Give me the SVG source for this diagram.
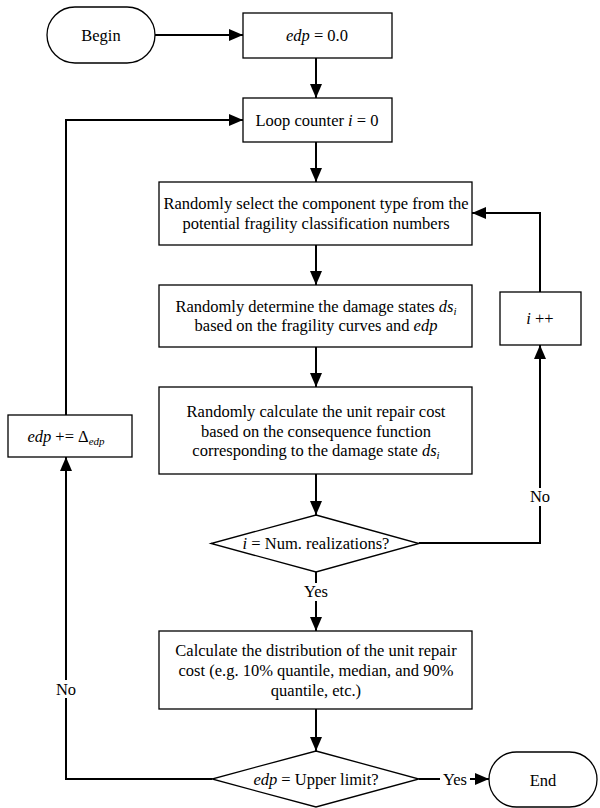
<svg xmlns="http://www.w3.org/2000/svg" width="600" height="808" viewBox="0 0 600 808" font-family="'Liberation Serif', 'Times New Roman', serif">
<style>
.n{fill:#fff;stroke:#000;stroke-width:1.3}
.c{fill:none;stroke:#000;stroke-width:2}
text{font-family:'Liberation Serif','Times New Roman',serif;font-size:16.5px;fill:#000;text-anchor:middle}
.i{font-style:italic}
.s{font-style:italic;font-size:11px}
.lb{fill:#fff;stroke:none}
</style>
<defs>
<marker id="a" markerUnits="userSpaceOnUse" markerWidth="14" markerHeight="12" refX="14" refY="6" orient="auto">
<path d="M0,0 L14,6 L0,12 z" fill="#000"/>
</marker>
</defs>
<rect width="600" height="808" fill="#fff"/>
<g id="connectors">
<path class="c" d="M155,35 L243,35" marker-end="url(#a)"/>
<path class="c" d="M316,58 L316,98" marker-end="url(#a)"/>
<path class="c" d="M316,142 L316,182" marker-end="url(#a)"/>
<path class="c" d="M316,245 L316,285" marker-end="url(#a)"/>
<path class="c" d="M316,347 L316,387" marker-end="url(#a)"/>
<path class="c" d="M316,474 L316,515" marker-end="url(#a)"/>
<path class="c" d="M316,572 L316,631" marker-end="url(#a)"/>
<path class="c" d="M316,709 L316,751" marker-end="url(#a)"/>
<path class="c" d="M419,779 L489,779" marker-end="url(#a)"/>
<path class="c" d="M212,779 L66,779 L66,457" marker-end="url(#a)"/>
<path class="c" d="M66,415 L66,120 L243,120" marker-end="url(#a)"/>
<path class="c" d="M419,543 L540,543 L540,345" marker-end="url(#a)"/>
<path class="c" d="M540,292 L540,213 L472,213" marker-end="url(#a)"/>
<rect class="lb" x="300" y="583" width="32" height="18"/>
<text x="316" y="597">Yes</text>
<rect class="lb" x="440" y="770" width="30" height="18"/>
<text x="455" y="785">Yes</text>
<rect class="lb" x="54" y="680" width="24" height="18"/>
<text x="66" y="695">No</text>
<rect class="lb" x="528" y="488" width="24" height="18"/>
<text x="540" y="502">No</text>
</g>
<g id="begin">
<rect class="n" x="47" y="7" width="108" height="56" rx="28" ry="28"/>
<text x="101" y="41">Begin</text>
</g>
<g id="edp0">
<rect class="n" x="243" y="13" width="149" height="45"/>
<text x="317" y="41"><tspan class="i">edp</tspan> = 0.0</text>
</g>
<g id="loop">
<rect class="n" x="243" y="98" width="149" height="44"/>
<text x="317" y="126">Loop counter <tspan class="i">i</tspan> = 0</text>
</g>
<g id="select">
<rect class="n" x="159" y="182" width="313" height="63"/>
<text x="316" y="209">Randomly select the component type from the</text>
<text x="316" y="229">potential fragility classification numbers</text>
</g>
<g id="determine">
<rect class="n" x="159" y="285" width="313" height="62"/>
<text x="316" y="312">Randomly determine the damage states <tspan class="i">ds</tspan><tspan class="s" dy="3">i</tspan></text>
<text x="316" y="331">based on the fragility curves and <tspan class="i">edp</tspan></text>
</g>
<g id="calccost">
<rect class="n" x="159" y="387" width="313" height="87"/>
<text x="316" y="417">Randomly calculate the unit repair cost</text>
<text x="316" y="437">based on the consequence function</text>
<text x="316" y="456">corresponding to the damage state <tspan class="i">ds</tspan><tspan class="s" dy="3">i</tspan></text>
</g>
<g id="decision1">
<polygon class="n" points="316,515 419,543.5 316,572 211,543.5"/>
<text x="316" y="549"><tspan class="i">i</tspan> = Num. realizations?</text>
</g>
<g id="distribution">
<rect class="n" x="159" y="631" width="313" height="78"/>
<text x="316" y="656">Calculate the distribution of the unit repair</text>
<text x="316" y="676">cost (e.g. 10% quantile, median, and 90%</text>
<text x="316" y="696">quantile, etc.)</text>
</g>
<g id="decision2">
<polygon class="n" points="316,751 419,779 316,807 212,779"/>
<text x="316" y="785"><tspan class="i">edp</tspan> = Upper limit?</text>
</g>
<g id="end">
<rect class="n" x="489" y="752" width="108" height="55" rx="27.5" ry="27.5"/>
<text x="543" y="786">End</text>
</g>
<g id="incedp">
<rect class="n" x="8" y="415" width="124" height="42"/>
<text x="66" y="442"><tspan class="i">edp</tspan> += Δ<tspan class="s" dy="3">edp</tspan></text>
</g>
<g id="inci">
<rect class="n" x="500" y="292" width="81" height="53"/>
<text x="540" y="324"><tspan class="i">i</tspan> ++</text>
</g>
</svg>
